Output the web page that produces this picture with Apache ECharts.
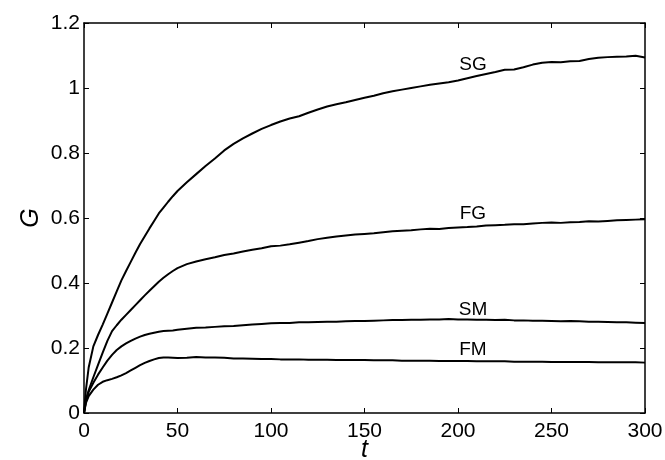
<!DOCTYPE html>
<html>
<head>
<meta charset="utf-8">
<script src="https://cdn.jsdelivr.net/npm/echarts@6/dist/echarts.min.js"></script>
<style>
  html, body { margin: 0; padding: 0; background: #fff; }
  #main { width: 665px; height: 460px; }
</style>
</head>
<body>
<div id="main"></div>
<script>
// time points
var tVals = [0, 1, 2.5, 5, 7.5, 10, 12.5, 15, 17.5, 20, 22.5, 25, 27.5, 30, 32.5, 35, 37.5, 40, 42.5, 45, 47.5, 50,
  55, 60, 65, 70, 75, 80, 85, 90, 95, 100, 105, 110, 115, 120, 125, 130, 135, 140, 145, 150,
  155, 160, 165, 170, 175, 180, 185, 190, 195, 200, 205, 210, 215, 220, 225, 230, 235, 240, 245, 250,
  255, 260, 265, 270, 275, 280, 285, 290, 295, 300];

var sgVals = [0, 0.07, 0.14, 0.205, 0.24, 0.272, 0.306, 0.34, 0.374, 0.408, 0.437, 0.465, 0.493, 0.52, 0.544, 0.568, 0.591, 0.614, 0.632, 0.65, 0.667, 0.683,
  0.71, 0.735, 0.76, 0.783, 0.808, 0.828, 0.845, 0.86, 0.874, 0.886, 0.897, 0.906, 0.913, 0.924, 0.934, 0.943, 0.95, 0.956, 0.963, 0.97,
  0.976, 0.984, 0.99, 0.995, 1.0, 1.005, 1.01, 1.014, 1.018, 1.023, 1.03, 1.037, 1.043, 1.049, 1.056, 1.057, 1.064, 1.072, 1.078, 1.08,
  1.079, 1.082, 1.083, 1.089, 1.093, 1.095, 1.096, 1.097, 1.099, 1.094];

var fgVals = [0, 0.04, 0.07, 0.11, 0.148, 0.186, 0.222, 0.252, 0.27, 0.287, 0.302, 0.317, 0.332, 0.347, 0.362, 0.376, 0.39, 0.404, 0.416, 0.427, 0.437, 0.446,
  0.458, 0.466, 0.473, 0.479, 0.486, 0.491, 0.497, 0.502, 0.507, 0.513, 0.515, 0.519, 0.524, 0.529, 0.535, 0.539, 0.543, 0.546, 0.549, 0.551,
  0.553, 0.556, 0.559, 0.561, 0.562, 0.565, 0.567, 0.566, 0.569, 0.571, 0.572, 0.574, 0.577, 0.578, 0.579, 0.581, 0.581, 0.583, 0.585, 0.586,
  0.585, 0.587, 0.588, 0.59, 0.589, 0.591, 0.593, 0.594, 0.595, 0.596];

var smVals = [0, 0.035, 0.065, 0.093, 0.118, 0.14, 0.161, 0.179, 0.194, 0.205, 0.214, 0.222, 0.229, 0.235, 0.24, 0.244, 0.247, 0.25, 0.252, 0.253, 0.254, 0.256,
  0.259, 0.262, 0.263, 0.265, 0.267, 0.268, 0.27, 0.272, 0.274, 0.276, 0.277, 0.277, 0.279, 0.279, 0.28, 0.281, 0.281, 0.282, 0.283, 0.283,
  0.284, 0.285, 0.286, 0.286, 0.287, 0.287, 0.288, 0.288, 0.289, 0.288, 0.288, 0.287, 0.287, 0.286, 0.287, 0.285, 0.285, 0.284, 0.284, 0.283,
  0.282, 0.283, 0.282, 0.281, 0.281, 0.28, 0.279, 0.279, 0.278, 0.277];

var fmVals = [0, 0.03, 0.052, 0.072, 0.087, 0.096, 0.101, 0.105, 0.11, 0.116, 0.123, 0.131, 0.139, 0.147, 0.154, 0.16, 0.165, 0.169, 0.171, 0.171, 0.17, 0.169,
  0.17, 0.172, 0.171, 0.171, 0.17, 0.168, 0.168, 0.167, 0.166, 0.166, 0.165, 0.165, 0.165, 0.164, 0.164, 0.164, 0.163, 0.163, 0.163, 0.163,
  0.162, 0.162, 0.162, 0.161, 0.161, 0.161, 0.161, 0.16, 0.16, 0.16, 0.16, 0.159, 0.159, 0.159, 0.159, 0.158, 0.158, 0.158, 0.158, 0.157,
  0.157, 0.157, 0.157, 0.157, 0.156, 0.156, 0.156, 0.156, 0.156, 0.155];

var seriesNames = ['SG', 'FG', 'SM', 'FM'];
var seriesVals = [sgVals, fgVals, smVals, fmVals];
// where the curve names sit [t, G]
var labelPos = [[208, 1.073], [208, 0.612], [208, 0.319], [208, 0.195]];

function pairs(ys) {
  var out = [];
  for (var i = 0; i < tVals.length; i++) out.push([tVals[i], ys[i]]);
  return out;
}

var chart = echarts.init(document.getElementById('main'));

var font = 'Liberation Sans, Arial, Helvetica, sans-serif';

var series = seriesNames.map(function (name, i) {
  return {
    name: name,
    type: 'line',
    data: pairs(seriesVals[i]),
    showSymbol: false,
    symbol: 'none',
    animation: false,
    lineStyle: { color: '#000', width: 2 },
    markPoint: {
      symbol: 'rect',
      symbolSize: 1,
      itemStyle: { color: 'rgba(0,0,0,0)' },
      label: {
        show: true,
        formatter: name,
        color: '#000',
        fontFamily: font,
        fontSize: 19
      },
      data: [{ coord: labelPos[i] }]
    }
  };
});

var xCommon = {
  type: 'value', min: 0, max: 300, interval: 50,
  axisLine: { show: true, onZero: false, lineStyle: { color: '#000', width: 1.5 } },
  axisTick: { show: true, inside: true, length: 5, lineStyle: { color: '#000' } },
  splitLine: { show: false }
};
var yCommon = {
  type: 'value', min: 0, max: 1.2, interval: 0.2,
  axisLine: { show: true, onZero: false, lineStyle: { color: '#000', width: 1.5 } },
  axisTick: { show: true, inside: true, length: 5, lineStyle: { color: '#000' } },
  splitLine: { show: false }
};

chart.setOption({
  backgroundColor: '#fff',
  animation: false,
  grid: { left: 84, right: 20, top: 23, bottom: 47, containLabel: false, outerBoundsMode: 'none' },
  xAxis: [
    Object.assign({}, xCommon, {
      position: 'bottom',
      name: 't',
      nameLocation: 'middle',
      nameGap: 25,
      nameMoveOverlap: false,
      nameTextStyle: { fontFamily: font, fontSize: 25, fontStyle: 'italic', color: '#000' },
      axisLabel: { color: '#000', fontFamily: font, fontSize: 21, margin: 8 }
    }),
    Object.assign({}, xCommon, { position: 'top', axisLabel: { show: false } })
  ],
  yAxis: [
    Object.assign({}, yCommon, {
      position: 'left',
      name: 'G',
      nameLocation: 'middle',
      nameGap: 40,
      nameRotate: 90,
      nameMoveOverlap: false,
      nameTextStyle: { fontFamily: font, fontSize: 25, fontStyle: 'italic', color: '#000' },
      axisLabel: {
        color: '#000', fontFamily: font, fontSize: 21, margin: 4,
        formatter: function (v) { return String(Math.round(v * 10) / 10); }
      }
    }),
    Object.assign({}, yCommon, { position: 'right', axisLabel: { show: false } })
  ],
  series: series
});
</script>
</body>
</html>
